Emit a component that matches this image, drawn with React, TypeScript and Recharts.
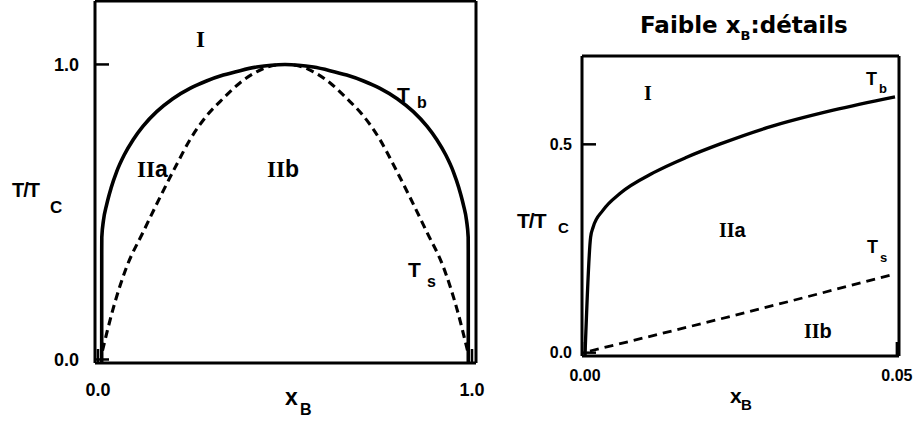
import React from "react";
import { LineChart, Line, XAxis, YAxis } from "recharts";

// Full range: x_B from 0 to 1
const FULL_TB_X = [
  0.0099, 0.01, 0.0102, 0.0145, 0.023, 0.035, 0.05, 0.07, 0.094, 0.12, 0.157, 0.2, 0.246, 0.29, 0.335, 0.38, 0.424, 0.5,
  0.576, 0.62, 0.665, 0.71, 0.754, 0.8, 0.843, 0.88, 0.906, 0.93, 0.95, 0.965, 0.977, 0.9855, 0.9898, 0.99, 0.9901,
];
const FULL_TB_Y = [
  -0.011, 0.371, 0.415, 0.47, 0.524, 0.581, 0.637, 0.693, 0.745, 0.79, 0.84, 0.884, 0.919, 0.944, 0.964, 0.979, 0.991, 1.0,
  0.991, 0.979, 0.964, 0.944, 0.919, 0.884, 0.84, 0.79, 0.745, 0.693, 0.637, 0.581, 0.524, 0.47, 0.415, 0.371, -0.011,
];
const FULL_TS_X = [
  0.012, 0.04, 0.077, 0.12, 0.166, 0.21, 0.246, 0.29, 0.335, 0.38, 0.424, 0.46, 0.5,
  0.54, 0.576, 0.62, 0.665, 0.71, 0.754, 0.79, 0.834, 0.88, 0.923, 0.96, 0.988,
];
const FULL_TS_Y = [
  0.03, 0.17, 0.315, 0.43, 0.55, 0.66, 0.745, 0.825, 0.885, 0.938, 0.975, 0.994, 1.0,
  0.994, 0.975, 0.938, 0.885, 0.825, 0.745, 0.66, 0.55, 0.43, 0.315, 0.17, 0.03,
];
const FULL_X_TICKS = [0, 1];
const FULL_X_LABELS = ["0.0", "1.0"];
const FULL_Y_TICKS = [0, 1];
const FULL_Y_LABELS = ["0.0", "1.0"];

// Low x_B detail: 0 to 0.05
const LOW_TB_X = [0.0, 0.0009, 0.0013, 0.0029, 0.0056, 0.011, 0.0163, 0.0217, 0.0292, 0.0398, 0.0497];
const LOW_TB_Y = [-0.007, 0.277, 0.301, 0.342, 0.382, 0.432, 0.469, 0.501, 0.54, 0.582, 0.614];
const LOW_TS_X = [0.0008, 0.0217, 0.0497];
const LOW_TS_Y = [0.004, 0.081, 0.189];
const LOW_X_TICKS = [0, 0.05];
const LOW_X_LABELS = ["0.00", "0.05"];
const LOW_Y_TICKS = [0, 0.5];
const LOW_Y_LABELS = ["0.0", "0.5"];

const toPoints = (xs: number[], ys: number[]) => xs.map((x, i) => ({ x, y: ys[i] }));

const SANS = "Liberation Sans, Arial, sans-serif";
const SERIF = "Liberation Serif, Times New Roman, serif";

interface PanelProps {
  left: number;
  width: number;
  margin: { top: number; right: number; left: number; bottom: number };
  yAxisWidth: number;
  xAxisHeight: number;
  xDomain: [number, number];
  yDomain: [number, number];
  xTicks: number[];
  xLabels: string[];
  yTicks: number[];
  yLabels: string[];
  tickFont: number;
  xTickMargin: number;
  yTickMargin: number;
  tb: { x: number; y: number }[];
  ts: { x: number; y: number }[];
  dash: string;
  lineWidth: number;
}

function Panel(p: PanelProps) {
  const axisLine = { stroke: "#000", strokeWidth: 3 };
  const tickLine = { stroke: "#000", strokeWidth: 2.5 };
  const tickStyle = { fill: "#000", fontSize: p.tickFont, fontWeight: 700, fontFamily: SANS };
  const fmtX = (v: number) => p.xLabels[p.xTicks.indexOf(v)] ?? "";
  const fmtY = (v: number) => p.yLabels[p.yTicks.indexOf(v)] ?? "";
  return (
    <LineChart
      width={p.width}
      height={423}
      margin={p.margin}
      style={{ position: "absolute", left: p.left, top: 0 }}
    >
      <XAxis
        type="number"
        dataKey="x"
        domain={p.xDomain}
        allowDataOverflow
        ticks={p.xTicks}
        tickFormatter={fmtX}
        height={p.xAxisHeight}
        tickSize={-14}
        tickMargin={p.xTickMargin}
        tick={tickStyle}
        axisLine={axisLine}
        tickLine={tickLine}
      />
      <XAxis
        xAxisId="top"
        orientation="top"
        type="number"
        dataKey="x"
        domain={p.xDomain}
        allowDataOverflow
        ticks={p.xTicks}
        height={1}
        tickSize={-14}
        tick={false}
        axisLine={axisLine}
        tickLine={tickLine}
      />
      <YAxis
        type="number"
        dataKey="y"
        domain={p.yDomain}
        allowDataOverflow
        ticks={p.yTicks}
        tickFormatter={fmtY}
        width={p.yAxisWidth}
        tickSize={-14}
        tickMargin={p.yTickMargin}
        tick={tickStyle}
        axisLine={axisLine}
        tickLine={tickLine}
      />
      <YAxis
        yAxisId="right"
        orientation="right"
        type="number"
        dataKey="y"
        domain={p.yDomain}
        allowDataOverflow
        ticks={p.yTicks}
        width={4}
        tickSize={-14}
        tick={false}
        axisLine={axisLine}
        tickLine={tickLine}
      />
      <Line
        data={p.ts}
        dataKey="y"
        type="monotone"
        stroke="#000"
        strokeWidth={p.lineWidth - 0.5}
        strokeDasharray={p.dash}
        dot={false}
        isAnimationActive={false}
      />
      <Line
        data={p.tb}
        dataKey="y"
        type="monotone"
        stroke="#000"
        strokeWidth={p.lineWidth}
        dot={false}
        isAnimationActive={false}
      />
    </LineChart>
  );
}

export default function App() {
  return (
    <div style={{ position: "absolute", left: 0, top: 0, width: 913, height: 423, background: "#fff" }}>
      <Panel
        left={0}
        width={500}
        margin={{ top: 0, right: 20, left: 0, bottom: 0 }}
        yAxisWidth={95}
        xAxisHeight={60}
        xDomain={[-0.008, 1.0107]}
        yDomain={[-0.0119, 1.215]}
        xTicks={FULL_X_TICKS}
        xLabels={FULL_X_LABELS}
        yTicks={FULL_Y_TICKS}
        yLabels={FULL_Y_LABELS}
        tickFont={18}
        xTickMargin={34}
        yTickMargin={30}
        tb={toPoints(FULL_TB_X, FULL_TB_Y)}
        ts={toPoints(FULL_TS_X, FULL_TS_Y)}
        dash="8 5"
        lineWidth={3.6}
      />
      <Panel
        left={505}
        width={408}
        margin={{ top: 55, right: 10, left: 0, bottom: 0 }}
        yAxisWidth={77}
        xAxisHeight={67}
        xDomain={[-0.00048, 0.05034]}
        yDomain={[-0.008, 0.712]}
        xTicks={LOW_X_TICKS}
        xLabels={LOW_X_LABELS}
        yTicks={LOW_Y_TICKS}
        yLabels={LOW_Y_LABELS}
        tickFont={16}
        xTickMargin={28}
        yTickMargin={24}
        tb={toPoints(LOW_TB_X, LOW_TB_Y)}
        ts={toPoints(LOW_TS_X, LOW_TS_Y)}
        dash="9 6"
        lineWidth={3.3}
      />
      <svg
        width={913}
        height={423}
        style={{ position: "absolute", left: 0, top: 0, pointerEvents: "none" }}
        fontWeight={700}
        fill="#000"
      >
        {/* left panel labels */}
        <text x={196} y={47} fontFamily={SERIF} fontSize={23}>I</text>
        <text x={137} y={177} fontSize={23}>
          <tspan fontFamily={SERIF}>II</tspan>
          <tspan fontFamily={SANS}>a</tspan>
        </text>
        <text x={267} y={177} fontSize={23}>
          <tspan fontFamily={SERIF}>II</tspan>
          <tspan fontFamily={SANS}>b</tspan>
        </text>
        <text x={397} y={102} fontFamily={SANS} fontSize={21}>T</text>
        <text x={417} y={108} fontFamily={SANS} fontSize={16}>b</text>
        <text x={408} y={277} fontFamily={SANS} fontSize={21}>T</text>
        <text x={427} y={287} fontFamily={SANS} fontSize={16}>s</text>
        <text x={12} y={197} fontFamily={SANS} fontSize={20} letterSpacing={-1}>T/T</text>
        <text x={50} y={213} fontFamily={SANS} fontSize={17}>C</text>
        <text x={285} y={405} fontFamily={SANS} fontSize={23}>x</text>
        <text x={300} y={415} fontFamily={SANS} fontSize={16}>B</text>

        {/* right panel labels */}
        <text x={640} y={33} fontFamily="DejaVu Sans, sans-serif" fontSize={23}>
          Faible x
          <tspan fontSize={13} dy={7}>B</tspan>
          <tspan dy={-7}>:détails</tspan>
        </text>
        <text x={644} y={100} fontFamily={SERIF} fontSize={20}>I</text>
        <text x={866} y={85} fontFamily={SANS} fontSize={18}>T</text>
        <text x={879} y={93} fontFamily={SANS} fontSize={13}>b</text>
        <text x={719} y={237} fontSize={20}>
          <tspan fontFamily={SERIF}>II</tspan>
          <tspan fontFamily={SANS}>a</tspan>
        </text>
        <text x={867} y={253} fontFamily={SANS} fontSize={18}>T</text>
        <text x={880} y={262} fontFamily={SANS} fontSize={13}>s</text>
        <text x={804} y={338} fontSize={20}>
          <tspan fontFamily={SERIF}>II</tspan>
          <tspan fontFamily={SANS}>b</tspan>
        </text>
        <text x={517} y={228} fontFamily={SANS} fontSize={21} letterSpacing={-1}>T/T</text>
        <text x={558} y={233} fontFamily={SANS} fontSize={15}>C</text>
        <text x={730} y={403} fontFamily={SANS} fontSize={21}>x</text>
        <text x={741} y={410} fontFamily={SANS} fontSize={15}>B</text>
      </svg>
    </div>
  );
}
